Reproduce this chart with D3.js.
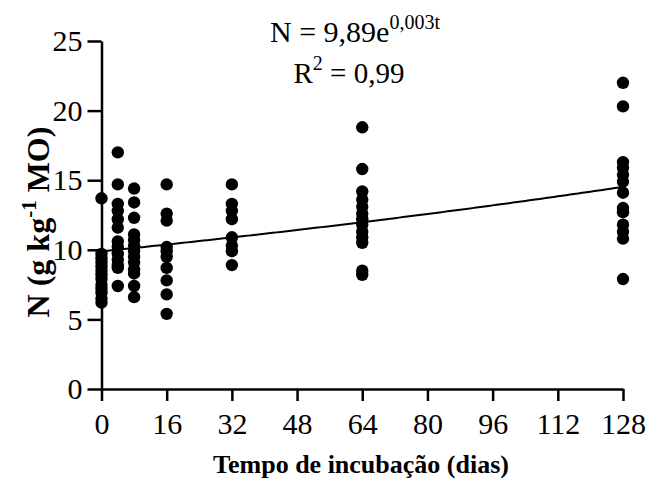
<!DOCTYPE html>
<html><head><meta charset="utf-8">
<script src="https://cdn.jsdelivr.net/npm/d3@7"></script>
<style>body{margin:0;background:#fff}</style>
</head><body>
<svg id="c" width="649" height="480"></svg>
<script>
const days = [0, 4, 8, 16, 32, 64, 128];
const values = [
  [13.7, 9.7, 9.4, 9.1, 8.8, 8.5, 8.2, 7.9, 7.5, 7.2, 6.9, 6.5, 6.2],
  [17.0, 14.7, 13.3, 12.8, 12.2, 11.6, 10.6, 10.2, 9.7, 9.3, 8.9, 8.7, 7.4],
  [14.4, 13.4, 12.3, 11.1, 10.7, 10.3, 9.9, 9.5, 9.1, 8.6, 8.3, 7.4, 6.6],
  [14.7, 12.6, 12.1, 10.2, 9.9, 9.5, 8.7, 7.8, 6.8, 5.4],
  [14.7, 13.3, 12.8, 12.2, 10.9, 10.3, 9.9, 8.9],
  [18.8, 15.8, 14.2, 13.6, 13.1, 12.6, 12.2, 11.8, 11.3, 10.9, 10.5, 8.5, 8.2],
  [22.0, 20.3, 16.3, 15.9, 15.4, 14.9, 14.1, 13.0, 12.7, 11.8, 11.3, 10.8, 7.9]
];
const xTicks = [0, 16, 32, 48, 64, 80, 96, 112, 128];
const yTicks = [0, 5, 10, 15, 20, 25];
const fitA = 9.89, fitB = 0.003;

const svg = d3.select("#c");
svg.append("rect").attr("width",649).attr("height",480).attr("fill","#fff");
const x = d3.scaleLinear().domain([0,128]).range([101.5,623]);
const y = d3.scaleLinear().domain([0,25]).range([389,41]);
const font = "'Liberation Serif','Times New Roman',serif";

const gx = svg.append("g").attr("transform","translate(0,389)")
  .call(d3.axisBottom(x).tickValues(xTicks).tickSizeInner(12).tickSizeOuter(0).tickPadding(12).tickFormat(d3.format("d")));
const gy = svg.append("g").attr("transform","translate(101.5,0)")
  .call(d3.axisLeft(y).tickValues(yTicks).tickSizeInner(14).tickSizeOuter(0).tickPadding(5).tickFormat(d3.format("d")));
[gx,gy].forEach(g=>{
  g.selectAll("path,line").attr("stroke","#000").attr("stroke-width",2.5);
  g.selectAll("text").attr("fill","#000").style("font-family",font).style("font-size","30px");
});

const pts = [];
days.forEach((d,i)=>values[i].forEach(v=>pts.push({d,v})));
svg.append("g").selectAll("circle").data(pts).join("circle")
  .attr("cx",p=>x(p.d)).attr("cy",p=>y(p.v)).attr("r",6.2).attr("fill","#000");

const curve = d3.range(0,129,1).map(t=>[t, fitA*Math.exp(fitB*t)]);
svg.append("path").datum(curve)
  .attr("d", d3.line().x(d=>x(d[0])).y(d=>y(d[1])))
  .attr("fill","none").attr("stroke","#000").attr("stroke-width",2);

const eq1 = svg.append("text").attr("x",355).attr("y",42).attr("text-anchor","middle")
  .style("font-family",font).style("font-size","30px");
eq1.append("tspan").text("N = 9,89e");
eq1.append("tspan").attr("dy",-13).style("font-size","20px").text("0,003t");
const eq2 = svg.append("text").attr("x",349).attr("y",83).attr("text-anchor","middle")
  .style("font-family",font).style("font-size","29px");
eq2.append("tspan").text("R");
eq2.append("tspan").attr("dy",-13).style("font-size","20px").text("2");
eq2.append("tspan").attr("dy",13).text(" = 0,99");

svg.append("text").attr("x",361).attr("y",473).attr("text-anchor","middle")
  .style("font-family",font).style("font-size","26px").style("font-weight","bold")
  .text("Tempo de incubação (dias)");
const yl = svg.append("text").attr("transform","translate(49,222) rotate(-90)").attr("text-anchor","middle")
  .style("font-family",font).style("font-size","32px").style("font-weight","bold");
yl.append("tspan").text("N (g kg");
yl.append("tspan").attr("dy",-13).style("font-size","21px").text("-1");
yl.append("tspan").attr("dy",13).text(" MO)");
</script>
</body></html>
